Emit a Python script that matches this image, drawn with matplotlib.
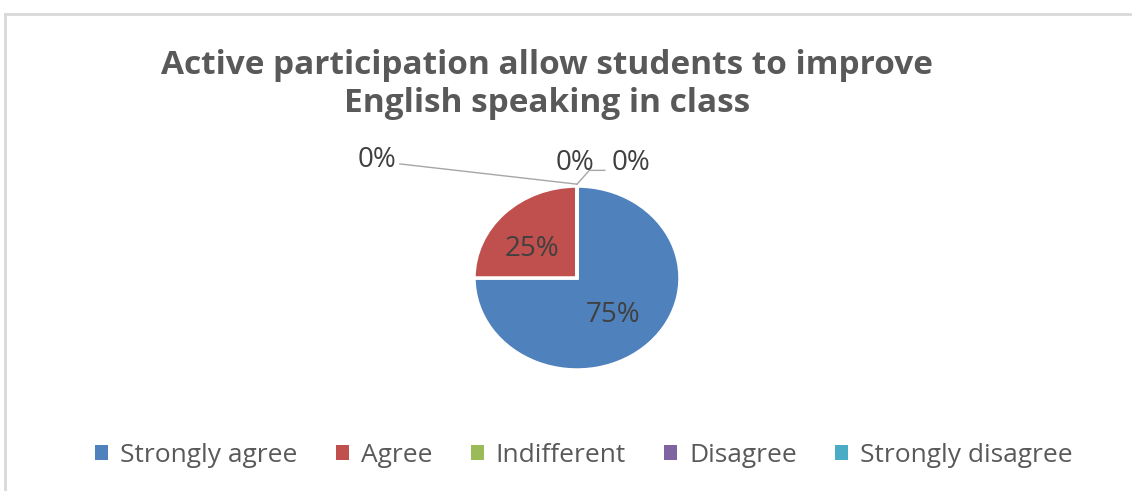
import matplotlib
matplotlib.use("Agg")
import matplotlib.pyplot as plt
from matplotlib.patches import Rectangle
from matplotlib.lines import Line2D

# Survey responses
categories = ["Strongly agree", "Agree", "Indifferent", "Disagree", "Strongly disagree"]
shares = [75, 25, 0, 0, 0]
colors = ["#4F81BD", "#C0504D", "#9BBB59", "#8064A2", "#4BACC6"]
title = "Active participation allow students to improve\nEnglish speaking in class"

W, H = 1132, 491
FONT = "Open Sans"
fig = plt.figure(figsize=(W / 100, H / 100), dpi=100)
fig.patch.set_facecolor("white")

# chart frame (top and left edges visible)
fig.add_artist(Line2D([5 / W, 5 / W], [0, 1 - 14 / H], transform=fig.transFigure,
                      color="#D9D9D9", lw=2))
fig.add_artist(Line2D([5 / W, 1], [1 - 14 / H, 1 - 14 / H], transform=fig.transFigure,
                      color="#D9D9D9", lw=2))

# pie axes: bounding box of the (slightly wide) pie
cx, cy, rx, ry = 577, 278, 103, 92
ax = fig.add_axes([(cx - rx) / W, (H - cy - ry) / H, 2 * rx / W, 2 * ry / H])
ax.axis("off")

wedges, _ = ax.pie(shares, colors=colors, startangle=90, counterclock=False,
                   radius=1, wedgeprops=dict(edgecolor="white", linewidth=2.5),
                   normalize=True)
ax.set_xlim(-1, 1)
ax.set_ylim(-1, 1)
ax.set_aspect("auto")

lab_font = dict(fontsize=20, color="#404040", family=FONT)
# labels for the visible slices
pos = {0: (0.35, -0.40), 1: (-0.44, 0.31)}
for i, (x, y) in pos.items():
    ax.text(x, y, f"{shares[i]}%", ha="center", va="center", **lab_font)

# zero-share slices sit at the top of the pie; labels with leader lines
top = (0.0, 1.0)
zero_labels = {2: (-1.94, 1.28), 3: (-0.02, 1.25), 4: (0.52, 1.25)}
for i, (x, y) in zero_labels.items():
    ax.text(x, y, f"{shares[i]}%", ha="center", va="center", clip_on=False, **lab_font)
ax.add_line(Line2D([top[0], -1.72], [top[1] + 0.02, 1.24], color="#A6A6A6", lw=1,
                   clip_on=False))
ax.add_line(Line2D([top[0], 0.12, 0.27], [top[1] + 0.02, 1.17, 1.17], color="#A6A6A6",
                   lw=1, clip_on=False))

fig.text(547 / W, 1 - 84 / H, title, ha="center", va="center", fontsize=24,
         fontweight="bold", color="#595959", family=FONT, linespacing=1.2)

handles = [Rectangle((0, 0), 1, 1, facecolor=c, edgecolor="none") for c in colors]
fig.legend(handles, categories, loc="center", bbox_to_anchor=(584 / W, 1 - 455 / H),
           ncol=5, frameon=False, handlelength=0.5, handleheight=0.5,
           handletextpad=0.45, columnspacing=1.45,
           prop=dict(family=FONT, size=19), labelcolor="#595959")

fig.savefig("out.png", dpi=100, facecolor="white")
